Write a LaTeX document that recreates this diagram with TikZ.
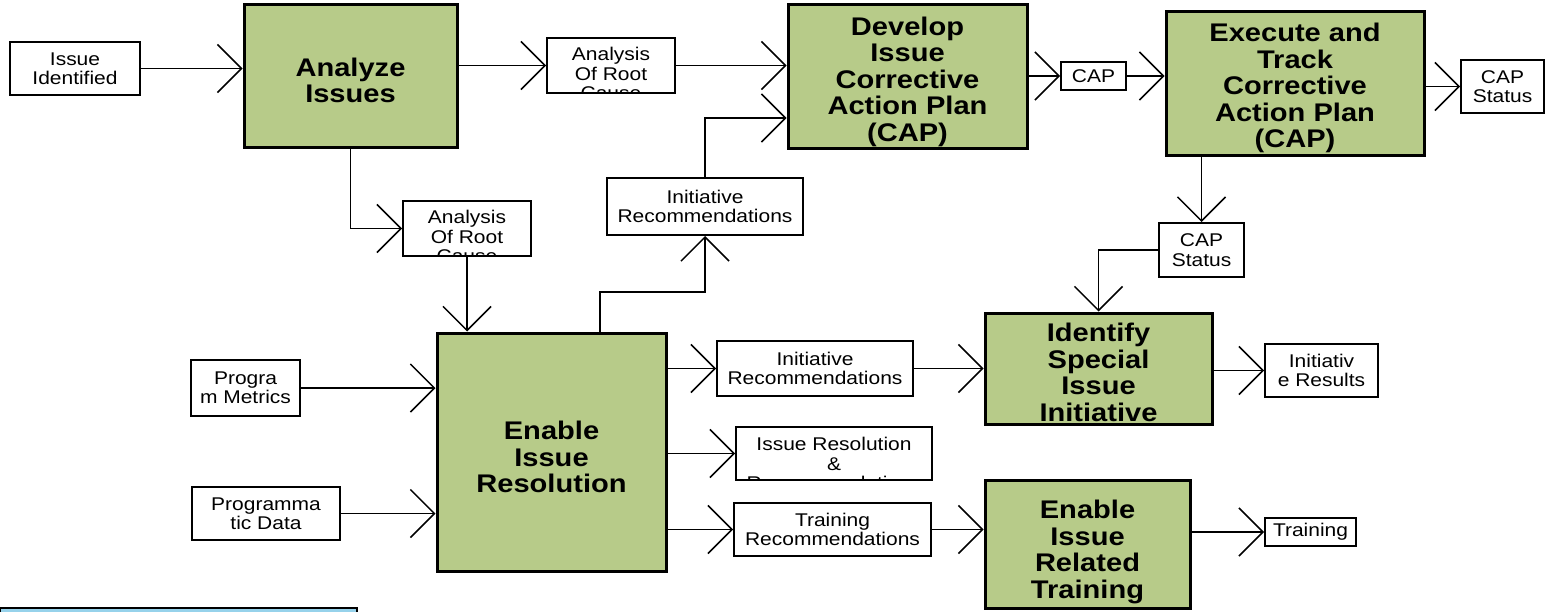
\documentclass[tikz,border=0pt]{standalone}
\usepackage{fontspec}
\setmainfont{Liberation Sans}[FakeStretch=1.14]
\usetikzlibrary{arrows.meta,calc}
\definecolor{cgreen}{RGB}{183,203,137}
\definecolor{cblue}{RGB}{150,210,235}
\tikzset{
  sbox/.style={draw, line width=1pt, fill=white, align=center, inner sep=1pt,
    font=\fontsize{9.2pt}{9.7pt}\selectfont},
  gbox/.style={draw, line width=1.5pt, fill=cgreen, align=center, inner sep=1pt},
  wh/.style 2 args={minimum width=#1*0.5pt, minimum height=#2*0.5pt},
  stxt/.style={inner sep=0pt, align=center, font=\fontsize{9.2pt}{9.7pt}\selectfont},
  gtxt/.style={inner sep=0pt, align=center, font=\bfseries\fontsize{12.75pt}{13.25pt}\selectfont},
  gt/.style n args={3}{path picture={\node[gtxt] (#3) at ([yshift=#2]path picture bounding box.center) {#1};}},
  st/.style n args={3}{path picture={\node[stxt, anchor=north] (#3) at ([yshift=#2]path picture bounding box.north) {#1};}},
  arr/.style={line width=0.75pt, -{Straight Barb[length=12pt,width=24pt]}},
}
\begin{document}
\begin{tikzpicture}[x=0.5pt,y=-0.5pt]
\useasboundingbox (0,0) rectangle (1546,611);
\begin{scope}
\clip (0,0) rectangle (1546,611);
% boxes
\node[sbox, wh={130}{53}] (ii) at (75,68.5) {Issue\\Identified};
\node[gbox, wh={213}{143}, gt={Analyze\\Issues}{-2.5pt}{azt}] (az) at (350.5,75.5) {};
\node[sbox, wh={128}{55}, st={Analysis\\Of Root\\Cause}{-3.5pt}{ar1t}] (ar1) at (611,65.5) {};
\node[gbox, wh={239}{144}, gt={Develop\\Issue\\Corrective\\Action Plan\\(CAP)}{-2.75pt}{devt}] (dev) at (907.5,76) {};
\node[sbox, wh={65}{28}] (cap) at (1093.5,76) {CAP};
\node[gbox, wh={258}{144}, gt={Execute and\\Track\\Corrective\\Action Plan\\(CAP)}{-2.5pt}{exet}] (exe) at (1295,83) {};
\node[sbox, wh={83}{53}] (cs1) at (1502.5,86.5) {CAP\\Status};
\node[sbox, wh={128}{55}, st={Analysis\\Of Root\\Cause}{-3.5pt}{ar2t}] (ar2) at (467,228.5) {};
\node[sbox, wh={196}{57}] (ir1) at (705,206.5) {Initiative\\Recommendations};
\node[sbox, wh={85}{54}] (cs2) at (1201.5,250) {CAP\\Status};
\node[gbox, wh={229}{238}, gt={Enable\\Issue\\Resolution}{-2.5pt}{eirtx}] (eir) at (551.5,452) {};
\node[sbox, wh={109}{56}] (pm) at (245.5,388) {Progra\\m Metrics};
\node[sbox, wh={148}{53}] (pd) at (266,513.5) {Programma\\tic Data};
\node[sbox, wh={196}{55}] (ir2) at (815,368.5) {Initiative\\Recommendations};
\node[gbox, wh={227}{111}, gt={Identify\\Special\\Issue\\Initiative}{-2pt}{isit}] (isi) at (1098.5,368.5) {};
\node[sbox, wh={113}{53}] (res) at (1321.5,370.5) {Initiativ\\e Results};
\node[sbox, wh={196}{53}, st={Issue Resolution\\\&\\Recommendations}{-4.5pt}{irrt}] (irr) at (834,453.5) {};
\node[sbox, wh={197}{53}] (tr) at (832.5,529.5) {Training\\Recommendations};
\node[gbox, wh={205}{128}, gt={Enable\\Issue\\Related\\Training}{-4pt}{eirtt}] (eirt) at (1087.5,544) {};
\node[sbox, wh={91}{28}] (trn) at (1310.5,532) {Training};
% bottom-left strip
\draw[line width=1pt, fill=cblue] (0,608) rectangle (357,620);
\end{scope}
% connectors
\coordinate (j1) at (600,292);
\draw[arr] (ii.east) -- (ii.east -| az.west);
\draw[arr] (az.east |- ar1.west) -- (ar1.west);
\draw[arr] (ar1.east) -- (ar1.east -| dev.west);
\draw[arr] (dev.east |- cap.west) -- (cap.west);
\draw[arr] (cap.east) -- (cap.east -| exe.west);
\draw[arr] (exe.east |- cs1.west) -- (cs1.west);
\draw[arr] (az.south) |- (ar2.west);
\draw[arr] (ar2.south) -- (ar2.south |- eir.north);
\draw[arr] (j1 |- eir.north) -- (j1) -| (ir1.south);
\draw[arr] (ir1.north) |- ([yshift=-21pt]dev.west);
\draw[arr] (exe.south -| cs2.north) -- (cs2.north);
\draw[arr] (cs2.west) -| (isi.north);
\draw[arr] (pm.east) -- (pm.east -| eir.west);
\draw[arr] (pd.east) -- (pd.east -| eir.west);
\draw[arr] (eir.east |- ir2.west) -- (ir2.west);
\draw[arr] (ir2.east) -- (ir2.east -| isi.west);
\draw[arr] (isi.east |- res.west) -- (res.west);
\draw[arr] (eir.east |- irr.west) -- (irr.west);
\draw[arr] (eir.east |- tr.west) -- (tr.west);
\draw[arr] (tr.east) -- (tr.east -| eirt.west);
\draw[arr] (eirt.east |- trn.west) -- (trn.west);
\end{tikzpicture}
\end{document}
